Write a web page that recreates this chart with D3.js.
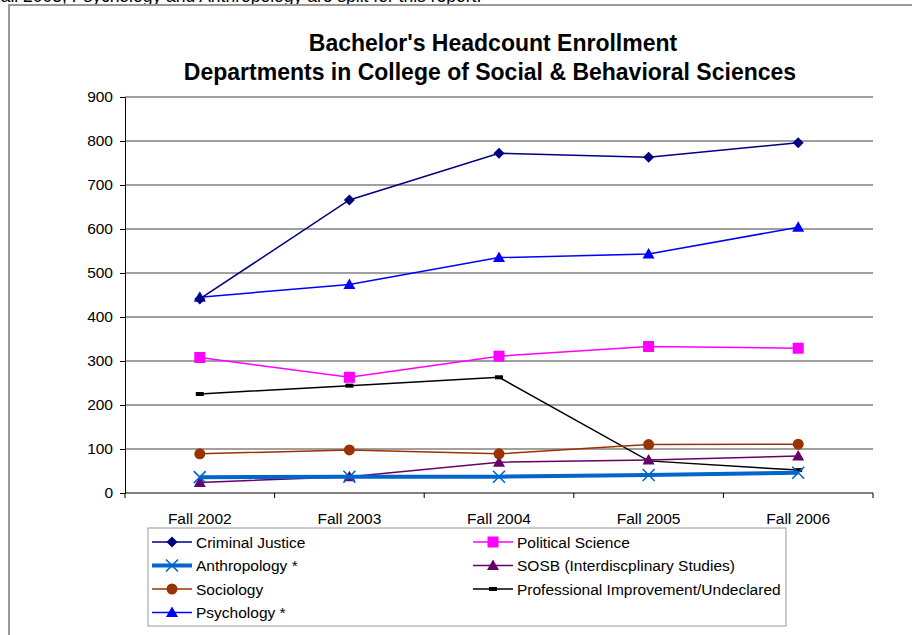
<!DOCTYPE html>
<html>
<head>
<meta charset="utf-8">
<script src="https://cdn.jsdelivr.net/npm/d3@7/dist/d3.min.js"></script>
<style>
body { margin: 0; background: #fff; overflow: hidden; }
text { font-family: "Liberation Sans", Arial, sans-serif; }
</style>
</head>
<body>
<div id="container"></div>
<script>
var width = 912,
    height = 635;

var categories = ["Fall 2002", "Fall 2003", "Fall 2004", "Fall 2005", "Fall 2006"];
var yTicks = [0, 100, 200, 300, 400, 500, 600, 700, 800, 900];

var criminalJustice = [441, 666, 772, 763, 796];
var politicalScience = [308, 263, 311, 333, 329];
var anthropology = [36, 37, 37, 41, 46];
var sosb = [24, 37, 70, 75, 84];
var sociology = [89, 98, 89, 110, 111];
var professional = [225, 244, 263, 73, 52];
var psychology = [445, 474, 535, 543, 604];

var seriesNames = ["Criminal Justice", "Political Science", "Anthropology *",
    "SOSB (Interdiscplinary Studies)", "Sociology", "Professional Improvement/Undeclared", "Psychology *"];

var series = [
    { name: seriesNames[0], values: criminalJustice, color: "#000080", width: 1.5, marker: "diamond" },
    { name: seriesNames[1], values: politicalScience, color: "#ff00ff", width: 1.5, marker: "square" },
    { name: seriesNames[2], values: anthropology, color: "#0066cc", width: 4, marker: "cross" },
    { name: seriesNames[3], values: sosb, color: "#660066", width: 1.5, marker: "triangle" },
    { name: seriesNames[4], values: sociology, color: "#993300", width: 1.5, marker: "circle" },
    { name: seriesNames[5], values: professional, color: "#000000", width: 1.5, marker: "dash" },
    { name: seriesNames[6], values: psychology, color: "#0000ff", width: 1.5, marker: "triangle" }
];

// draw order (back to front) roughly as in the original
var drawOrder = [5, 3, 4, 1, 6, 0, 2];

var svg = d3.select("#container")
    .append("svg")
    .attr("width", width)
    .attr("height", height);

// note above the frame, cut off by the page top as in the original
svg.append("text")
    .attr("x", -10)
    .attr("y", 1.5)
    .attr("font-size", "17.5px")
    .attr("fill", "#000")
    .text("Fall 2005, Psychology and Anthropology are split for this report.");

// outer chart frame
svg.append("rect")
    .attr("x", 9)
    .attr("y", 5)
    .attr("width", 920)
    .attr("height", 650)
    .attr("fill", "none")
    .attr("stroke", "#999")
    .attr("stroke-width", 2);

var plot = { left: 125, right: 873, top: 97, bottom: 493 };

var x = d3.scaleBand()
    .domain(categories)
    .range([plot.left, plot.right]);

var y = d3.scaleLinear()
    .domain([0, 900])
    .range([plot.bottom, plot.top]);

// title
svg.append("text")
    .attr("x", 493)
    .attr("y", 51)
    .attr("text-anchor", "middle")
    .attr("font-size", "23px")
    .attr("font-weight", "bold")
    .text("Bachelor's Headcount Enrollment");
svg.append("text")
    .attr("x", 490)
    .attr("y", 80)
    .attr("text-anchor", "middle")
    .attr("font-size", "23px")
    .attr("font-weight", "bold")
    .text("Departments in College of Social & Behavioral Sciences");

// gridlines
svg.append("g")
    .selectAll("line")
    .data(yTicks.filter(function (d) { return d > 0; }))
    .enter().append("line")
    .attr("x1", plot.left)
    .attr("x2", plot.right)
    .attr("y1", function (d) { return y(d); })
    .attr("y2", function (d) { return y(d); })
    .attr("stroke", "#a0a0a0")
    .attr("stroke-width", 2);

// y axis
var yAxis = svg.append("g")
    .attr("transform", "translate(" + plot.left + ",0)")
    .call(d3.axisLeft(y).tickValues(yTicks).tickSize(5).tickSizeOuter(0).tickPadding(7));
yAxis.select(".domain").attr("stroke", "#000");
yAxis.selectAll("text").attr("font-size", "15.5px").attr("font-family", "Liberation Sans, Arial, sans-serif").attr("fill", "#000");

// x axis with ticks at band edges
var xAxisG = svg.append("g")
    .attr("transform", "translate(0," + plot.bottom + ")");
xAxisG.append("line")
    .attr("x1", plot.left).attr("x2", plot.right)
    .attr("stroke", "#000");
var edges = categories.map(function (c) { return x(c); }).concat([plot.right]);
xAxisG.selectAll("line.tick")
    .data(edges)
    .enter().append("line")
    .attr("class", "tick")
    .attr("x1", function (d) { return d; })
    .attr("x2", function (d) { return d; })
    .attr("y1", 0)
    .attr("y2", 5)
    .attr("stroke", "#000");
xAxisG.selectAll("text")
    .data(categories)
    .enter().append("text")
    .attr("x", function (d) { return x(d) + x.bandwidth() / 2; })
    .attr("y", 31)
    .attr("text-anchor", "middle")
    .attr("font-size", "15.5px")
    .text(function (d) { return d; });

function cx(i) { return x(categories[i]) + x.bandwidth() / 2; }

var line = d3.line()
    .x(function (d, i) { return cx(i); })
    .y(function (d) { return y(d); });

function drawMarker(g, type, color, px, py) {
    if (type === "diamond") {
        g.append("path")
            .attr("d", "M" + px + "," + (py - 5.5) + "L" + (px + 5.5) + "," + py + "L" + px + "," + (py + 5.5) + "L" + (px - 5.5) + "," + py + "Z")
            .attr("fill", color);
    } else if (type === "square") {
        g.append("rect")
            .attr("x", px - 5.5).attr("y", py - 5.5)
            .attr("width", 11).attr("height", 11)
            .attr("fill", color);
    } else if (type === "cross") {
        g.append("path")
            .attr("d", "M" + (px - 6) + "," + (py - 6) + "L" + (px + 6) + "," + (py + 6) + "M" + (px + 6) + "," + (py - 6) + "L" + (px - 6) + "," + (py + 6))
            .attr("stroke", color)
            .attr("stroke-width", 1.6)
            .attr("fill", "none");
    } else if (type === "triangle") {
        g.append("path")
            .attr("d", "M" + px + "," + (py - 6) + "L" + (px + 6) + "," + (py + 4.5) + "L" + (px - 6) + "," + (py + 4.5) + "Z")
            .attr("fill", color);
    } else if (type === "circle") {
        g.append("circle")
            .attr("cx", px).attr("cy", py).attr("r", 5.5)
            .attr("fill", color);
    } else if (type === "dash") {
        g.append("rect")
            .attr("x", px - 4).attr("y", py - 2)
            .attr("width", 8).attr("height", 4)
            .attr("fill", color);
    }
}

var linesG = svg.append("g");
drawOrder.forEach(function (k) {
    var s = series[k];
    var g = linesG.append("g").attr("class", "series");
    g.append("path")
        .datum(s.values)
        .attr("d", line)
        .attr("fill", "none")
        .attr("stroke", s.color)
        .attr("stroke-width", s.width);
    s.values.forEach(function (v, i) {
        drawMarker(g, s.marker, s.color, cx(i), y(v));
    });
});

// legend
var legend = svg.append("g");
legend.append("rect")
    .attr("x", 148)
    .attr("y", 528)
    .attr("width", 638)
    .attr("height", 98)
    .attr("fill", "#fff")
    .attr("stroke", "#999")
    .attr("stroke-width", 1);

var legendCols = [152, 473];
var legendRows = [542, 565.5, 589, 612.5];
series.forEach(function (s, i) {
    var col = i % 2, row = Math.floor(i / 2);
    var lx = legendCols[col], ly = legendRows[row];
    var g = legend.append("g");
    g.append("line")
        .attr("x1", lx).attr("x2", lx + 40)
        .attr("y1", ly).attr("y2", ly)
        .attr("stroke", s.color)
        .attr("stroke-width", s.width);
    drawMarker(g, s.marker, s.color, lx + 20, ly);
    g.append("text")
        .attr("x", lx + 44)
        .attr("y", ly + 5.5)
        .attr("font-size", "15.5px")
        .text(s.name);
});
</script>
</body>
</html>
